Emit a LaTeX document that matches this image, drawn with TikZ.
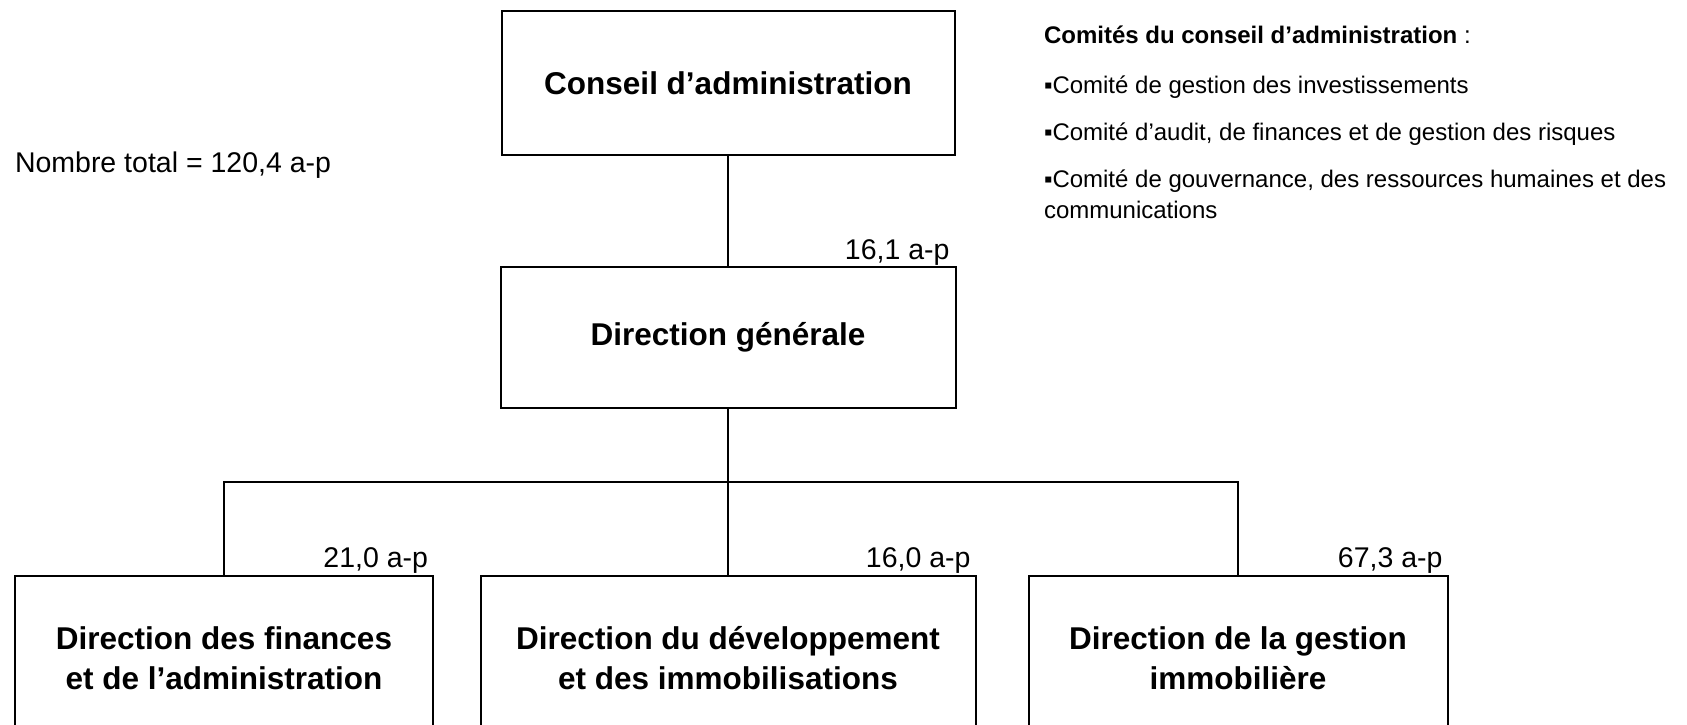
\documentclass[tikz,border=0pt]{standalone}
\usepackage{fontspec}
\setmainfont{Liberation Sans}
\usetikzlibrary{positioning}

\begin{document}
\begin{tikzpicture}[x=1pt, y=-1pt, line width=2pt,
  unite/.style={draw, align=center, inner sep=0pt,
    font=\bfseries\fontsize{31.5}{40}\selectfont},
  effectif/.style={anchor=base east, inner sep=0pt,
    font=\fontsize{28.5}{34}\selectfont},
  comite/.style={anchor=base west, inner sep=0pt,
    font=\fontsize{24}{31}\selectfont}]
  \useasboundingbox (0,0) rectangle (1687,724);
  \clip (0,0) rectangle (1687,724);

  % boites
  \node [unite, minimum width=453pt, minimum height=144pt] (ca) at (728,83) {Conseil d’administration};
  \node [unite, minimum width=455pt, minimum height=141pt] (dg) at (728,337.5) {Direction générale};
  \node [unite, minimum width=418pt, minimum height=164pt] (dfa) at (224,658) {Direction des finances\\et de l’administration};
  \node [unite, minimum width=495pt, minimum height=164pt] (ddi) at (728,658) {Direction du développement\\et des immobilisations};
  \node [unite, minimum width=419pt, minimum height=164pt] (dgi) at (1238,658) {Direction de la gestion\\immobilière};

  % liens
  \coordinate (bus) at (728,482);
  \draw (ca) -- (dg);
  \draw (dg) -- (bus);
  \draw (bus) -- (ddi);
  \draw (dfa.north) |- (bus) -| (dgi.north);

  % effectifs
  \node [effectif] (e-dg) at ([xshift=-6pt, yshift=7pt]dg.north east) {16,1 a-p};
  \node [effectif] (e-dfa) at ([xshift=-5pt, yshift=8pt]dfa.north east) {21,0 a-p};
  \node [effectif] (e-ddi) at ([xshift=-5pt, yshift=8pt]ddi.north east) {16,0 a-p};
  \node [effectif] (e-dgi) at ([xshift=-5pt, yshift=8pt]dgi.north east) {67,3 a-p};
  \node [anchor=base west, inner sep=0pt, font=\fontsize{28.5}{34}\selectfont] (total) at (14,172) {Nombre total = 120,4 a-p};

  % comites
  \node [comite] (comites) at (1043,43) {\textbf{Comités du conseil d’administration} :};
  \node [comite] (c1) at (1043,93) {▪Comité de gestion des investissements};
  \node [comite] (c2) at (1043,140) {▪Comité d’audit, de finances et de gestion des risques};
  \node [comite] (c3) at (1043,187) {▪Comité de gouvernance, des ressources humaines et des};
  \node [comite] (c3b) at (1043,218) {communications};
\end{tikzpicture}
\end{document}
